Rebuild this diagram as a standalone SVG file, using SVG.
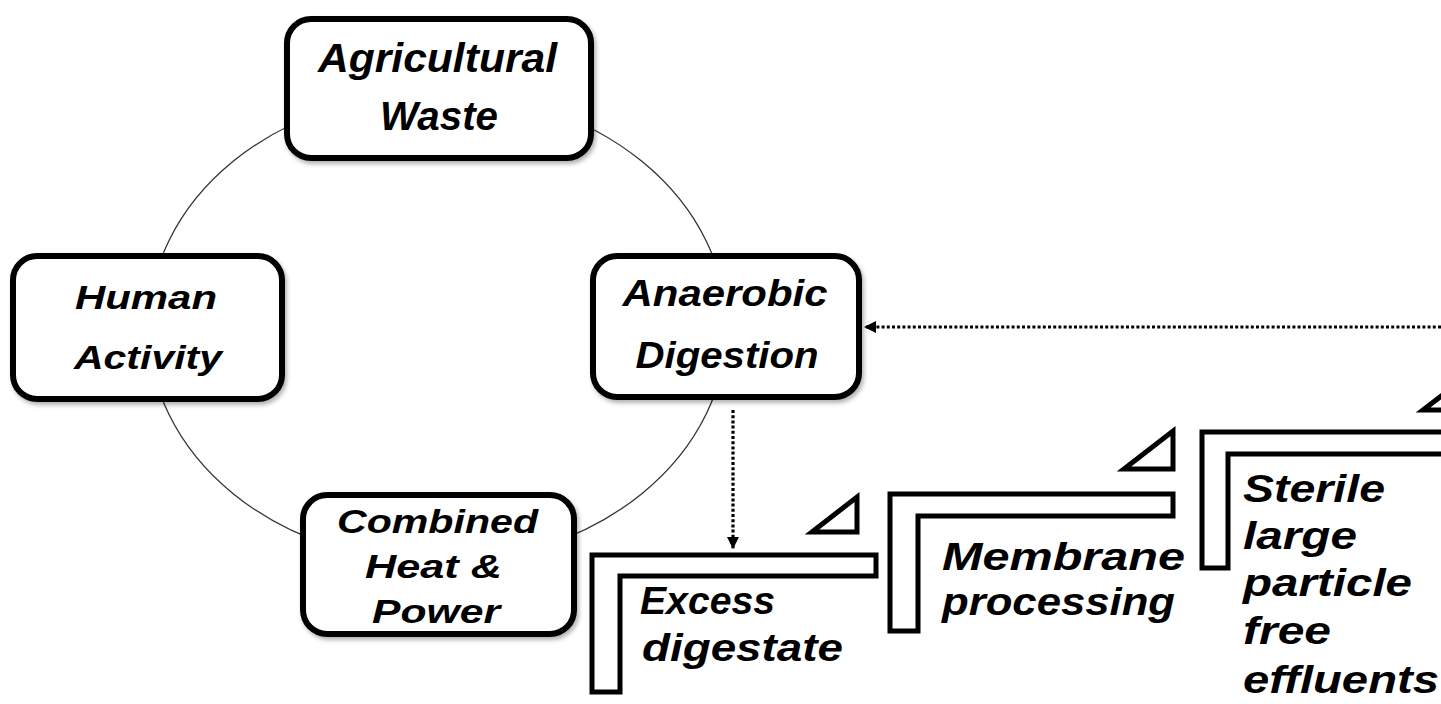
<svg xmlns="http://www.w3.org/2000/svg" width="1441" height="704" viewBox="0 0 1441 704">
<style>
.node rect{fill:#fff;stroke:#000;stroke-width:6;filter:url(#sh)}
.t{font-family:"Liberation Sans",Arial,sans-serif;font-weight:bold;font-style:italic;fill:#000}
.c{text-anchor:middle}
.frame{fill:#fff;stroke:#000;stroke-width:5;stroke-linejoin:miter}
.tri{fill:#fff;stroke:#000;stroke-width:5;stroke-linejoin:miter}
.dot{fill:none;stroke:#000;stroke-width:3.2;stroke-dasharray:3 2.2}
</style>
<defs>
<filter id="sh" x="-10%" y="-10%" width="125%" height="125%">
<feDropShadow dx="2" dy="3" stdDeviation="2" flood-color="#000" flood-opacity="0.3"/>
</filter>
<marker id="ah" markerUnits="userSpaceOnUse" markerWidth="14" markerHeight="14" refX="12" refY="6" orient="auto">
<path d="M0,0 L12,6 L0,12 z" fill="#000"/>
</marker>
</defs>
<rect width="1441" height="704" fill="#fff"/>
<g id="connectors">
<ellipse cx="437.5" cy="327.5" rx="289" ry="235" fill="none" stroke="#333" stroke-width="1.3"/>
<line class="dot" x1="1441" y1="327" x2="864" y2="327" marker-end="url(#ah)"/>
<line class="dot" x1="733" y1="410" x2="733" y2="549" marker-end="url(#ah)"/>
</g>
<g id="agricultural-waste" class="node">
<rect x="287" y="19" width="304" height="139" rx="24"/>
<text class="t c" font-size="41"><tspan x="437.5" y="72" textLength="239" lengthAdjust="spacingAndGlyphs">Agricultural</tspan><tspan x="439" y="130" textLength="118" lengthAdjust="spacingAndGlyphs">Waste</tspan></text>
</g>
<g id="human-activity" class="node">
<rect x="13" y="256" width="269" height="143" rx="24"/>
<text class="t c" font-size="34"><tspan x="146" y="309" textLength="142" lengthAdjust="spacingAndGlyphs">Human</tspan><tspan x="148" y="369" textLength="148" lengthAdjust="spacingAndGlyphs">Activity</tspan></text>
</g>
<g id="anaerobic-digestion" class="node">
<rect x="593" y="256" width="266" height="141" rx="24"/>
<text class="t c" font-size="36"><tspan x="725" y="306" textLength="205" lengthAdjust="spacingAndGlyphs">Anaerobic</tspan><tspan x="727" y="368" textLength="183" lengthAdjust="spacingAndGlyphs">Digestion</tspan></text>
</g>
<g id="combined-heat-power" class="node">
<rect x="303" y="495" width="271" height="139" rx="24"/>
<text class="t c" font-size="34"><tspan x="437.5" y="533" textLength="201" lengthAdjust="spacingAndGlyphs">Combined</tspan><tspan x="433.5" y="578" textLength="137" lengthAdjust="spacingAndGlyphs">Heat &amp;</tspan><tspan x="436" y="623" textLength="128" lengthAdjust="spacingAndGlyphs">Power</tspan></text>
</g>
<g id="excess-digestate">
<polygon class="frame" points="592,555 876,555 876,576 620,576 620,692 592,692"/>
<polygon class="tri" points="812,532 857,497 857,532"/>
<text class="t" font-size="38"><tspan x="640" y="614" textLength="135" lengthAdjust="spacingAndGlyphs">Excess</tspan><tspan x="642" y="661" textLength="201" lengthAdjust="spacingAndGlyphs">digestate</tspan></text>
</g>
<g id="membrane-processing">
<polygon class="frame" points="890,494 1173,494 1173,516 918,516 918,631 890,631"/>
<polygon class="tri" points="1124,469 1173,431 1173,469"/>
<text class="t" font-size="39"><tspan x="942" y="570" textLength="243" lengthAdjust="spacingAndGlyphs">Membrane</tspan><tspan x="942" y="615" textLength="233" lengthAdjust="spacingAndGlyphs">processing</tspan></text>
</g>
<g id="sterile-effluents">
<polygon class="frame" points="1202,432 1460,432 1460,454 1228,454 1228,568 1202,568"/>
<polygon class="tri" points="1423,410 1474,371 1474,410"/>
<text class="t" font-size="38"><tspan x="1243" y="502" textLength="142" lengthAdjust="spacingAndGlyphs">Sterile</tspan><tspan x="1243" y="549" textLength="114" lengthAdjust="spacingAndGlyphs">large</tspan><tspan x="1243" y="596" textLength="169" lengthAdjust="spacingAndGlyphs">particle</tspan><tspan x="1243" y="644" textLength="88" lengthAdjust="spacingAndGlyphs">free</tspan><tspan x="1243" y="693" textLength="196" lengthAdjust="spacingAndGlyphs">effluents</tspan></text>
</g>
</svg>
